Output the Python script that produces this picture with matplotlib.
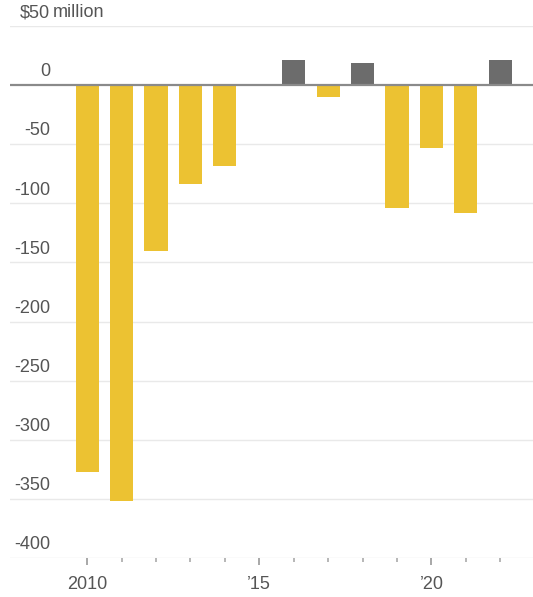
import matplotlib
matplotlib.use("Agg")
import matplotlib.pyplot as plt
import numpy as np

years = [2010, 2011, 2012, 2013, 2014, 2016, 2017, 2018, 2019, 2020, 2021, 2022]
values = [-327, -352, -140, -84, -68, 21, -10, 19, -104, -53, -108, 21]
y_ticks = [50, 0, -50, -100, -150, -200, -250, -300, -350, -400]
x_major = [2010, 2015, 2020]
x_labels = ["2010", "\u201915", "\u201920"]

YELLOW = "#ecc232"
GRAY = "#6c6c6c"
TEXT = "#555555"

plt.rcParams["font.family"] = ["Liberation Sans Narrow", "Liberation Sans", "DejaVu Sans"]
FS = 13

fig = plt.figure(figsize=(5.33, 5.97), dpi=100)
ax = fig.add_axes([10 / 533, 39 / 597, 523 / 533, 532 / 597])

colors = [GRAY if v > 0 else YELLOW for v in values]
ax.bar(years, values, width=0.67, color=colors, zorder=3)

ax.set_xlim(2007.76, 2022.95)
ax.set_ylim(-400, 50)

# gridlines, with the value labels sitting just above them
for t in y_ticks:
    if t == 0:
        ax.axhline(0, color="#8a8a8a", lw=1.6, zorder=4)
    else:
        ax.axhline(t, color="#e9e9e9", lw=1.0, zorder=1)
xl = 2007.76 + 40 / 34.4
for t in y_ticks:
    if t == 50:
        ax.text(xl, t + 4, "$50", ha="right", va="bottom", fontsize=FS, color=TEXT)
        ax.text(xl + 0.08, t + 4, "million", ha="left", va="bottom", fontsize=FS, color=TEXT)
    else:
        ax.text(xl, t + 4, str(t), ha="right", va="bottom", fontsize=FS, color=TEXT)

for s in ax.spines.values():
    s.set_visible(False)
ax.set_yticks([])
ax.set_xticks(np.arange(2010, 2023), minor=True)
ax.set_xticks(x_major)
ax.set_xticklabels(x_labels, fontsize=FS, color=TEXT)
ax.tick_params(axis="x", which="major", length=5, width=1.2, color="#999999", pad=8)
ax.tick_params(axis="x", which="minor", length=3, width=1.2, color="#aaaaaa")

fig.savefig("out.png", dpi=100)
